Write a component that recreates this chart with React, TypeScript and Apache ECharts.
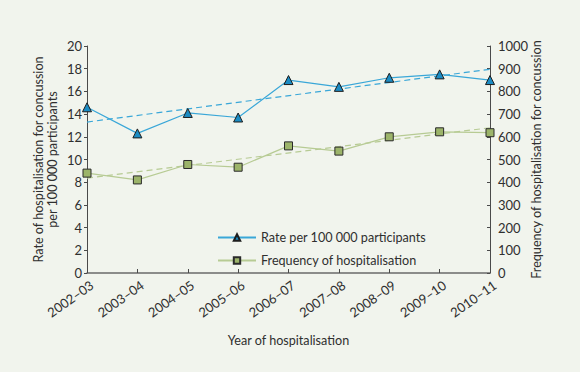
import React, { useEffect, useRef } from "react";
import * as echarts from "echarts";

const categories = ["2002–03", "2003–04", "2004–05", "2005–06", "2006–07", "2007–08", "2008–09", "2009–10", "2010–11"];
const rateValues = [14.6, 12.3, 14.1, 13.7, 17.0, 16.4, 17.2, 17.5, 17.0];
const frequencyValues = [440, 410, 478, 466, 560, 537, 600, 622, 618];
const rateTrend = [13.3, null, null, null, null, null, null, null, 17.95];
const frequencyTrend = [418, null, null, null, null, null, null, null, 640];
const leftTicks = { min: 0, max: 20, interval: 2 };
const rightTicks = { min: 0, max: 1000, interval: 100 };

const FONT = "Lato, 'Noto Sans', sans-serif";
const TXT = "#2f2f2f";
const BLUE = "#3aa7d8";
const BLUE_M = "#1b8cc4";
const GREEN = "#b7cb94";
const GREEN_M = "#9cb46a";

export default function App() {
  const ref = useRef<HTMLDivElement>(null);
  useEffect(() => {
    const chart = echarts.init(ref.current!, null, { renderer: "svg" });
    const axisLine = { show: true, lineStyle: { color: "#4a4a4a", width: 1 } };
    chart.setOption({
      animation: false,
      backgroundColor: "#f1f4ed",
      textStyle: { fontFamily: FONT },
      grid: { left: 87, right: 90, top: 46, bottom: 99 },
      legend: {
        data: ["Rate per 100 000 participants", "Frequency of hospitalisation"],
        orient: "vertical",
        left: 212,
        top: 226,
        itemWidth: 38,
        itemHeight: 8,
        itemGap: 10,
        textStyle: { color: TXT, fontSize: 12.6, fontFamily: FONT },
      },
      xAxis: {
        type: "category",
        data: categories,
        boundaryGap: false,
        axisLine: { ...axisLine, lineStyle: { color: "#6a6a6a", width: 1.5 } },
        axisTick: { show: true, inside: true, length: 4, lineStyle: { color: "#4a4a4a" } },
        axisLabel: { rotate: 35, margin: 14, color: TXT, fontSize: 13, fontFamily: FONT, padding: [0, -6, 0, 0] },
        name: "Year of hospitalisation",
        nameLocation: "middle",
        nameGap: 61,
        nameTextStyle: { color: TXT, fontSize: 12.6, fontFamily: FONT },
      },
      yAxis: [
        {
          type: "value",
          ...leftTicks,
          axisLine,
          axisTick: { show: true, length: 3, lineStyle: { color: "#4a4a4a" } },
          splitLine: { show: false },
          axisLabel: { color: TXT, fontSize: 13, margin: 5, fontFamily: FONT },
          name: "Rate of hospitalisation for concussion\nper 100 000 participants",
          nameLocation: "middle",
          nameGap: 28,
          nameMoveOverlap: false,
          nameTextStyle: { color: TXT, fontSize: 12.6, lineHeight: 14, fontFamily: FONT },
        },
        {
          type: "value",
          ...rightTicks,
          position: "right",
          axisLine,
          axisTick: { show: true, inside: true, length: 3, lineStyle: { color: "#4a4a4a" } },
          splitLine: { show: false },
          axisLabel: { color: TXT, fontSize: 13, margin: 8, fontFamily: FONT, formatter: (v: number) => String(v) },
          name: "Frequency of hospitalisation for concussion",
          nameLocation: "middle",
          nameGap: 40,
          nameRotate: 90,
          nameMoveOverlap: false,
          nameTextStyle: { color: TXT, fontSize: 12.6, fontFamily: FONT },
        },
      ],
      series: [
        {
          name: "Rate per 100 000 participants trend",
          type: "line",
          data: rateTrend,
          connectNulls: true,
          symbol: "none",
          lineStyle: { color: BLUE, width: 1.2, type: [6, 4] },
          z: 1,
        },
        {
          name: "Frequency trend",
          type: "line",
          yAxisIndex: 1,
          data: frequencyTrend,
          connectNulls: true,
          symbol: "none",
          lineStyle: { color: GREEN, width: 1.2, type: [6, 4] },
          z: 1,
        },
        {
          name: "Rate per 100 000 participants",
          type: "line",
          data: rateValues,
          symbol: "triangle",
          symbolSize: 9,
          lineStyle: { color: BLUE, width: 1.2 },
          itemStyle: { color: BLUE_M, borderColor: "#1d1d1d", borderWidth: 1 },
          z: 3,
        },
        {
          name: "Frequency of hospitalisation",
          type: "line",
          yAxisIndex: 1,
          data: frequencyValues,
          symbol: "rect",
          symbolSize: 8,
          lineStyle: { color: GREEN, width: 1.2 },
          itemStyle: { color: GREEN_M, borderColor: "#2a2a2a", borderWidth: 1 },
          z: 3,
        },
      ],
    });
    return () => chart.dispose();
  }, []);
  return <div ref={ref} style={{ width: 580, height: 372, position: "absolute", left: 0, top: 0 }} />;
}
